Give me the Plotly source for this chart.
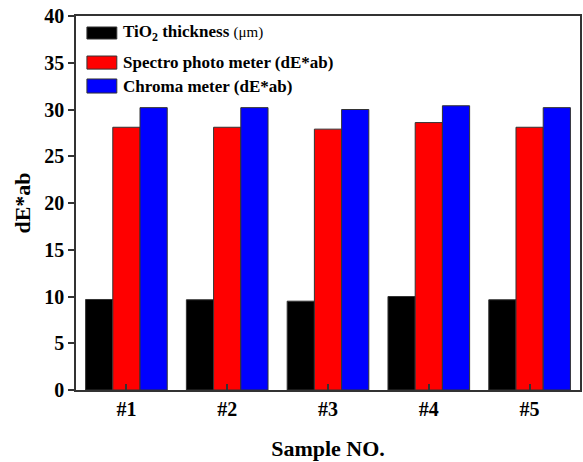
import plotly.graph_objects as go

samples = ["#1", "#2", "#3", "#4", "#5"]
tio2_thickness = [9.68, 9.65, 9.5, 10.0, 9.65]
spectro_dE = [28.1, 28.1, 27.9, 28.6, 28.1]
chroma_dE = [30.2, 30.2, 30.0, 30.4, 30.2]

series_names = [
    "<b>TiO<sub>2</sub> thickness</b> <span style='font-size:15px'>(μm)</span>",
    "<b>Spectro photo meter (dE*ab)</b>",
    "<b>Chroma meter (dE*ab)</b>",
]
series_colors = ["#000000", "#ff0000", "#0000ff"]
series_values = [tio2_thickness, spectro_dE, chroma_dE]

fig = go.Figure()
for name, color, vals in zip(series_names, series_colors, series_values):
    fig.add_trace(go.Bar(
        x=samples, y=vals, name=name,
        marker=dict(color=color, line=dict(color="#333333", width=1)),
        showlegend=False,
    ))

font_family = "Liberation Serif"
fig.update_layout(
    width=583, height=462,
    margin=dict(l=76, r=1, t=16, b=72),
    paper_bgcolor="white", plot_bgcolor="white",
    barmode="group", bargap=0.19, bargroupgap=0,
    font=dict(family=font_family, color="black"),
)
fig.update_xaxes(
    showline=True, linecolor="#333333", linewidth=1.5, mirror=True,
    ticks="inside", ticklen=6, tickcolor="#333333", tickwidth=1.5,
    tickfont=dict(size=20, family=font_family, weight="bold"),
    title=dict(text="<b>Sample NO.</b>", font=dict(size=22, family=font_family), standoff=22),
    showgrid=False, range=[-0.5, 4.5],
)
fig.update_yaxes(
    showline=True, linecolor="#333333", linewidth=1.5, mirror=True,
    ticks="outside", ticklen=6, tickcolor="#333333", tickwidth=1.5,
    tickfont=dict(size=20, family=font_family, weight="bold"),
    title=dict(text="<b>dE*ab</b>", font=dict(size=22, family=font_family), standoff=8),
    showgrid=False, range=[0, 40], dtick=5, zeroline=False,
)

# Custom legend (wide swatches like the original)
box_rows = [(0.9706, 0.9385), (0.893, 0.858), (0.8316, 0.794)]
text_y = [0.955, 0.8757, 0.8128]
for (y1, y0), ty, color, name in zip(box_rows, text_y, series_colors, series_names):
    fig.add_shape(type="rect", xref="paper", yref="paper",
                  x0=0.0217, x1=0.081, y0=y0, y1=y1,
                  fillcolor=color, line=dict(color="#333333", width=1))
    fig.add_annotation(xref="paper", yref="paper", x=0.0889, y=ty,
                       xanchor="left", yanchor="middle", showarrow=False,
                       text=name, font=dict(size=17, family=font_family, color="black"))

fig.write_html("out.html")
